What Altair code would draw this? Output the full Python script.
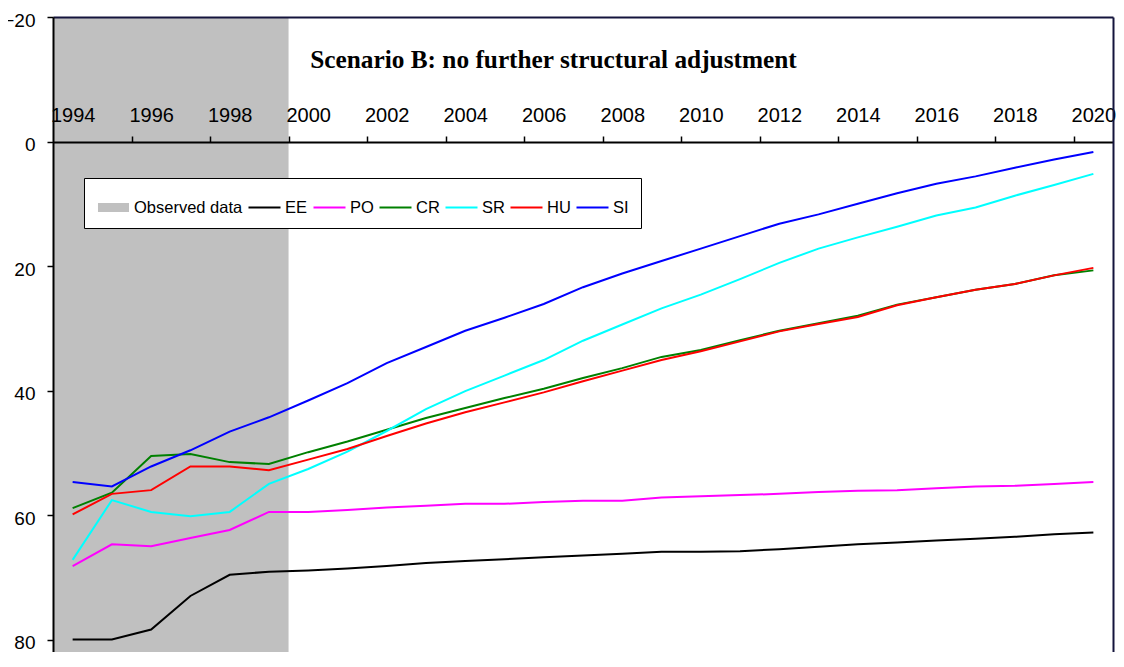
import altair as alt
import pandas as pd

years = list(range(1994, 2021))

EE = [80.0, 80.0, 78.4, 73.0, 69.6, 69.1,
      68.9, 68.6, 68.2, 67.7, 67.4, 67.1, 66.8, 66.5, 66.2, 65.9,
      65.9, 65.8, 65.5, 65.1, 64.7, 64.4, 64.1, 63.8, 63.5, 63.1, 62.8]
PO = [68.2, 64.7, 65.0, 63.7, 62.4, 59.5,
      59.5, 59.2, 58.8, 58.5, 58.2, 58.2, 57.9, 57.7, 57.7, 57.2,
      57.0, 56.8, 56.6, 56.3, 56.1, 56.0, 55.7, 55.4, 55.3, 55.0, 54.7]
CR = [58.9, 56.4, 50.5, 50.2, 51.5, 51.8,
      49.9, 48.2, 46.3, 44.4, 42.8, 41.2, 39.7, 38.0, 36.4, 34.6,
      33.5, 31.9, 30.4, 29.2, 28.0, 26.2, 25.0, 23.8, 22.9, 21.5, 20.7]
SR = [67.2, 57.6, 59.5, 60.2, 59.5, 55.0,
      52.6, 49.8, 46.5, 43.0, 40.1, 37.6, 35.1, 32.0, 29.4, 26.8,
      24.6, 22.1, 19.5, 17.2, 15.4, 13.7, 11.9, 10.6, 8.7, 7.0, 5.2]
HU = [59.9, 56.6, 56.0, 52.2, 52.2, 52.8,
      51.1, 49.4, 47.3, 45.3, 43.5, 41.9, 40.3, 38.5, 36.8, 35.1,
      33.7, 32.1, 30.5, 29.3, 28.2, 26.3, 25.0, 23.8, 22.9, 21.5, 20.3]
SI = [54.7, 55.4, 52.2, 49.6, 46.6, 44.3,
      41.6, 38.8, 35.6, 33.0, 30.4, 28.3, 26.1, 23.4, 21.2, 19.2,
      17.2, 15.2, 13.2, 11.7, 10.0, 8.3, 6.8, 5.6, 4.2, 2.9, 1.7]

series_names = ["EE", "PO", "CR", "SR", "HU", "SI"]
series_values = [EE, PO, CR, SR, HU, SI]
legend_names = ["Observed data"] + series_names
legend_colors = ["#c0c0c0", "#000000", "#ff00ff", "#008000", "#00ffff", "#ff0000", "#0000ff"]

observed_start = [1993.5]
observed_end = [1999.5]
y_low, y_high = -20, 82
y_tick_values = [-20, 0, 20, 40, 60, 80]
x_label_years = [1994, 1996, 1998, 2000, 2002, 2004, 2006, 2008, 2010, 2012, 2014, 2016, 2018, 2020]
x_tick_positions = [1995.5, 1997.5, 1999.5, 2001.5, 2003.5, 2005.5, 2007.5, 2009.5,
                    2011.5, 2013.5, 2015.5, 2017.5, 2019.5]
title_text = "Scenario B: no further structural adjustment"

rows = []
for name, vals in zip(series_names, series_values):
    for yr, v in zip(years, vals):
        rows.append({"year": yr, "value": v, "series": name})
df = pd.DataFrame(rows)

obs_df = pd.DataFrame({"start": observed_start, "end": observed_end,
                       "ylo": [y_low], "yhi": [y_high], "series": ["Observed data"]})

W, H = 1060, 635
xs = alt.Scale(domain=[1993.5, 2020.5], nice=False, zero=False)
ys = alt.Scale(domain=[y_low, y_high], reverse=True, nice=False, zero=False)
cs = alt.Scale(domain=legend_names, range=legend_colors)
rect_path = "M-0.88,-0.21H0.88V0.21H-0.88Z"
line_path = "M-0.97,0H0.97"
shp = alt.Scale(domain=legend_names, range=[rect_path] + [line_path] * 6)

zero_offset = -round(H * (0 - y_low) / (y_high - y_low))

leg = alt.Legend(title=None, orient="none", legendX=31, legendY=161, direction="horizontal",
                 strokeColor="black", fillColor="white", padding=12,
                 labelFont="Liberation Sans", labelFontSize=16.5, labelColor="black",
                 symbolSize=1089, symbolStrokeWidth=2, symbolOpacity=1,
                 columnPadding=1, labelOffset=3)

tick_axis = alt.Axis(orient="top", offset=zero_offset, values=x_tick_positions, labels=False,
                     ticks=True, tickSize=6, tickColor="black", tickWidth=1.5,
                     domain=True, domainColor="black", domainWidth=2, grid=False,
                     title=None, zindex=1)
label_axis = alt.Axis(orient="top", offset=zero_offset, values=x_label_years, format="d",
                      labels=True, ticks=False, domain=False, grid=False, title=None,
                      labelFont="Liberation Sans", labelFontSize=20, labelColor="black",
                      labelPadding=21, labelBaseline="alphabetic", labelAlign="center",
                      labelOverlap=False, labelBound=False, labelFlush=False, zindex=1)
top_border = alt.Axis(orient="top", values=[], labels=False, ticks=False, domain=True,
                      domainColor="#14143c", domainWidth=2, grid=False, title=None, zindex=1)
left_axis = alt.Axis(orient="left", values=y_tick_values, labelFont="Liberation Sans",
                     labelFontSize=19, labelColor="black", labelPadding=12, labelOffset=3,
                     tickSize=6, tickColor="black", tickWidth=1.5,
                     domainColor="black", domainWidth=2, grid=False, title=None, zindex=1)
right_border = alt.Axis(orient="right", values=[], labels=False, ticks=False, domain=True,
                        domainColor="#14143c", domainWidth=2, grid=False, title=None, zindex=1)

rect = alt.Chart(obs_df).mark_rect(opacity=1).encode(
    x=alt.X("start:Q", scale=xs, axis=top_border),
    x2="end:Q",
    y=alt.Y("ylo:Q", scale=ys, axis=left_axis),
    y2="yhi:Q",
    color=alt.Color("series:N", scale=cs, legend=leg),
)

lines = alt.Chart(df).mark_line(strokeWidth=2).encode(
    x=alt.X("year:Q", scale=xs, axis=label_axis),
    y=alt.Y("value:Q", scale=ys, axis=right_border),
    color=alt.Color("series:N", scale=cs, legend=leg),
)

pts = alt.Chart(df).mark_point(size=0, opacity=0).encode(
    x=alt.X("year:Q", scale=xs, axis=tick_axis),
    y=alt.Y("value:Q", scale=ys, axis=None),
    color=alt.Color("series:N", scale=cs, legend=leg),
    shape=alt.Shape("series:N", scale=shp, legend=leg),
)

title = alt.Chart(pd.DataFrame({"t": [title_text]})).mark_text(
    font="Liberation Serif", fontSize=25.3, fontWeight="bold", align="center",
    baseline="alphabetic", color="black"
).encode(text="t:N", x=alt.value(500.5), y=alt.value(51))

chart = alt.layer(rect, lines, pts, title).resolve_axis(
    x="independent", y="independent"
).properties(
    width=W, height=H,
    autosize=alt.AutoSizeParams(type="none"),
    padding={"left": 45, "top": 9, "right": 3, "bottom": 0},
    background="white",
).configure_view(stroke=None)

chart.save("out.html", embed_options={"renderer": "svg", "actions": False})
